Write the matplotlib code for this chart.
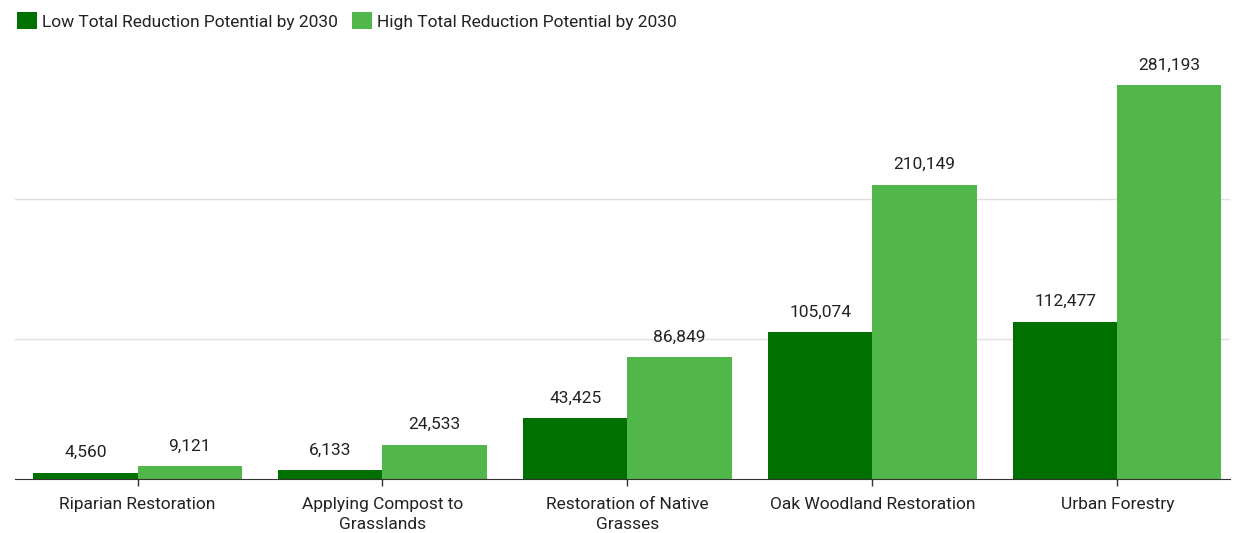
import matplotlib.pyplot as plt
import numpy as np

plt.rcParams['font.family'] = ['Roboto', 'DejaVu Sans']

categories = ['Riparian Restoration', 'Applying Compost to\nGrasslands',
              'Restoration of Native\nGrasses', 'Oak Woodland Restoration',
              'Urban Forestry']
low = [4560, 6133, 43425, 105074, 112477]
high = [9121, 24533, 86849, 210149, 281193]

fig = plt.figure(figsize=(12.34, 5.33), dpi=100)
ax = fig.add_axes([0.0122, 0.1013, 0.9846, 0.788])

x = np.arange(len(categories))
w = 0.425
b1 = ax.bar(x - w / 2, low, w, color='#007000', label='Low Total Reduction Potential by 2030')
b2 = ax.bar(x + w / 2, high, w, color='#52b74b', label='High Total Reduction Potential by 2030')

for bars in (b1, b2):
    ax.bar_label(bars, labels=[f'{v:,.0f}' for v in bars.datavalues],
                 padding=9, fontsize=12.5, color='#222222')

ax.set_xlim(-0.5, 4.46)
ax.set_ylim(0, 300000)
ax.set_yticks([100000, 200000])
ax.yaxis.grid(True, color='#e0e0e0', linewidth=1)
ax.set_axisbelow(True)
ax.tick_params(axis='y', length=0, labelleft=False)

ax.set_xticks(x)
ax.set_xticklabels(categories, fontsize=12.5, color='#222222', linespacing=1.45)
ax.tick_params(axis='x', length=5, width=1, color='#333333', pad=8)

for s in ['top', 'right', 'left']:
    ax.spines[s].set_visible(False)
ax.spines['bottom'].set_color('#333333')

fig.legend(loc='upper left', bbox_to_anchor=(0.004, 1.0), ncol=2, frameon=False,
           fontsize=12.5, handlelength=1.15, handleheight=1.15, handletextpad=0.3,
           columnspacing=0.8, labelcolor='#222222', borderaxespad=0.3)

plt.savefig('out.png')
